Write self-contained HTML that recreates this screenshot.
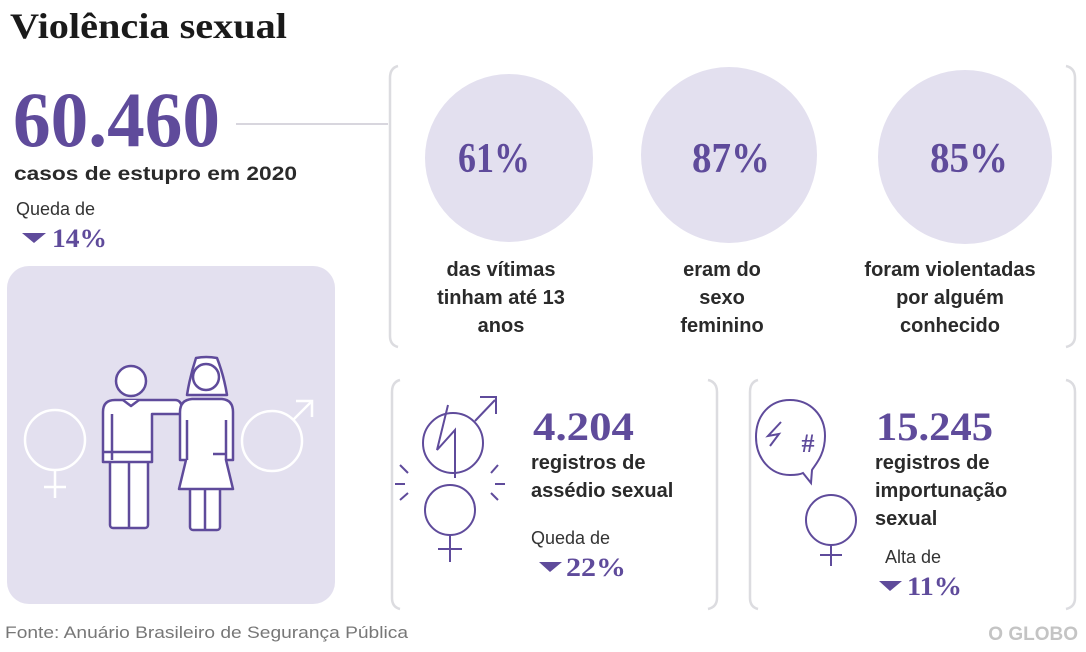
<!DOCTYPE html>
<html><head><meta charset="utf-8"><style>
html,body{margin:0;padding:0;background:#fff;width:1086px;height:652px;overflow:hidden}
svg{display:block}
.serif{font-family:"Liberation Serif",serif;font-weight:bold}
.sans{font-family:"Liberation Sans",sans-serif}
</style></head><body>
<svg width="1086" height="652" viewBox="0 0 1086 652" xmlns="http://www.w3.org/2000/svg">
<text x="10" y="38" class="serif" font-size="36" fill="#1a1a1a" textLength="277" lengthAdjust="spacingAndGlyphs">Violência sexual</text>
<text x="13" y="146" class="serif" font-size="78" fill="#5f4b9b" textLength="207" lengthAdjust="spacingAndGlyphs">60.460</text>
<line x1="236" y1="124" x2="388" y2="124" stroke="#d8d6de" stroke-width="2"/>
<text x="14" y="180" class="sans" font-size="19" font-weight="bold" fill="#2a2a2a" textLength="283" lengthAdjust="spacingAndGlyphs">casos de estupro em 2020</text>
<text x="16" y="215" class="sans" font-size="18" fill="#333">Queda de</text>
<polygon points="22,233 46,233 34,243" fill="#5f4b9b"/>
<text x="52" y="247" class="serif" font-size="26" fill="#5f4b9b" font-weight="normal" textLength="55" lengthAdjust="spacingAndGlyphs">14%</text>
<g fill="none" stroke="#dcdce0" stroke-width="2.5">
<path d="M398,66 Q390,68 390,78 L390,336 Q390,345 398,347"/>
<path d="M1066,66 Q1075,68 1075,78 L1075,336 Q1075,345 1066,347"/>
<path d="M400,380 Q392,382 392,392 L392,598 Q392,607 400,609"/>
<path d="M708,380 Q717,382 717,392 L717,598 Q717,607 708,609"/>
<path d="M758,380 Q750,382 750,392 L750,598 Q750,607 758,609"/>
<path d="M1066,380 Q1075,382 1075,392 L1075,598 Q1075,607 1066,609"/>
</g>
<circle cx="509" cy="158" r="84" fill="#e3e0ef"/>
<circle cx="729" cy="155" r="88" fill="#e3e0ef"/>
<circle cx="965" cy="157" r="87" fill="#e3e0ef"/>
<g class="serif" font-size="42" fill="#5f4b9b">
<text x="458" y="172" textLength="72" lengthAdjust="spacingAndGlyphs">61%</text>
<text x="692" y="172" textLength="78" lengthAdjust="spacingAndGlyphs">87%</text>
<text x="930" y="172" textLength="78" lengthAdjust="spacingAndGlyphs">85%</text>
</g>
<g class="sans" font-size="20" font-weight="bold" fill="#2a2a2a" text-anchor="middle">
<text x="501" y="276">das vítimas</text>
<text x="501" y="304">tinham até 13</text>
<text x="501" y="332">anos</text>
<text x="722" y="276">eram do</text>
<text x="722" y="304">sexo</text>
<text x="722" y="332">feminino</text>
<text x="950" y="276">foram violentadas</text>
<text x="950" y="304">por alguém</text>
<text x="950" y="332">conhecido</text>
</g>
<rect x="7" y="266" width="328" height="338" rx="22" fill="#e3e0ef"/>
<g fill="none" stroke="#fff" stroke-width="2.5">
<circle cx="55" cy="440" r="30"/><line x1="55" y1="470" x2="55" y2="498"/><line x1="44" y1="487" x2="66" y2="487"/>
<circle cx="272" cy="441" r="30"/><line x1="293" y1="420" x2="312" y2="401"/><polyline points="296,401 312,401 312,417"/>
</g>
<g fill="#fff" stroke="#5f4b9b" stroke-width="2.5" stroke-linejoin="round">
<rect x="110" y="452" width="38" height="76" rx="3"/>
<line x1="129" y1="460" x2="129" y2="528"/>
<path d="M103,412 Q103,400 115,400 L175,400 Q182,400 182,410 L182,414 L152,414 L152,462 L103,462 Z"/>
<line x1="103" y1="452" x2="152" y2="452"/>
<line x1="112" y1="414" x2="112" y2="460"/>
<circle cx="131" cy="381" r="15"/>
<path d="M123,400 L131,406 L139,400"/>
<rect x="190" y="486" width="30" height="44" rx="3"/>
<line x1="205" y1="490" x2="205" y2="530"/>
<path d="M196,358 Q206,356 217,358 Q224,376 227,395 L187,395 Q190,376 196,358 Z"/>
<circle cx="206" cy="377" r="13"/>
<path d="M180,412 Q180,400 192,399 L222,399 Q233,400 233,412 L233,460 L226,460 L233,489 L179,489 L186,460 L180,460 Z"/>
<line x1="187" y1="420" x2="187" y2="460"/><line x1="226" y1="420" x2="226" y2="460"/>
<line x1="213" y1="454" x2="226" y2="454"/>
</g>
<g fill="none" stroke="#5f4b9b" stroke-width="2">
<circle cx="453" cy="443" r="30"/>
<line x1="475" y1="421" x2="495" y2="400"/><polyline points="480,397 496,397 496,414"/>
<polyline points="448,405 437,450 455,430 455,478"/>
<circle cx="450" cy="510" r="25"/><line x1="450" y1="535" x2="450" y2="562"/><line x1="438" y1="549" x2="462" y2="549"/>
<line x1="400" y1="465" x2="408" y2="473"/><line x1="395" y1="484" x2="405" y2="484"/><line x1="400" y1="500" x2="408" y2="493"/>
<line x1="498" y1="465" x2="491" y2="473"/><line x1="495" y1="484" x2="505" y2="484"/><line x1="498" y1="500" x2="491" y2="493"/>
</g>
<text x="533" y="440" class="serif" font-size="40" fill="#5f4b9b" textLength="101" lengthAdjust="spacingAndGlyphs">4.204</text>
<g class="sans" font-size="20" font-weight="bold" fill="#2a2a2a">
<text x="531" y="469">registros de</text>
<text x="531" y="497">assédio sexual</text>
</g>
<text x="531" y="544" class="sans" font-size="18" fill="#333">Queda de</text>
<polygon points="539,562 562,562 550,572" fill="#5f4b9b"/>
<text x="566" y="576" class="serif" font-size="26" fill="#5f4b9b" font-weight="normal" textLength="60" lengthAdjust="spacingAndGlyphs">22%</text>
<g fill="none" stroke="#5f4b9b" stroke-width="2">
<path d="M790,400 C810,400 825,415 825,436 C825,455 815,465 812,470 L811,483 L803,473 C799,475 794,475 790,475 C770,475 756,458 756,437 C756,415 770,400 790,400 Z"/>
<polyline points="781,422 768,436 779,434 770,446"/>
<circle cx="831" cy="520" r="25"/><line x1="831" y1="545" x2="831" y2="566"/><line x1="820" y1="555" x2="842" y2="555"/>
</g>
<text x="808" y="452" class="serif" font-size="26" fill="#5f4b9b" text-anchor="middle">#</text>
<text x="876" y="440" class="serif" font-size="40" fill="#5f4b9b" textLength="117" lengthAdjust="spacingAndGlyphs">15.245</text>
<g class="sans" font-size="20" font-weight="bold" fill="#2a2a2a">
<text x="875" y="469">registros de</text>
<text x="875" y="497">importunação</text>
<text x="875" y="525">sexual</text>
</g>
<text x="885" y="563" class="sans" font-size="18" fill="#333">Alta de</text>
<polygon points="879,581 902,581 890,591" fill="#5f4b9b"/>
<text x="907" y="595" class="serif" font-size="26" fill="#5f4b9b" font-weight="normal" textLength="55" lengthAdjust="spacingAndGlyphs">11%</text>
<text x="5" y="638" class="sans" font-size="17" fill="#777" textLength="403" lengthAdjust="spacingAndGlyphs">Fonte: Anuário Brasileiro de Segurança Pública</text>
<text x="1078" y="640" class="sans" font-size="19" font-weight="bold" fill="#c4c4c4" text-anchor="end">O GLOBO</text>
</svg>
</body></html>
